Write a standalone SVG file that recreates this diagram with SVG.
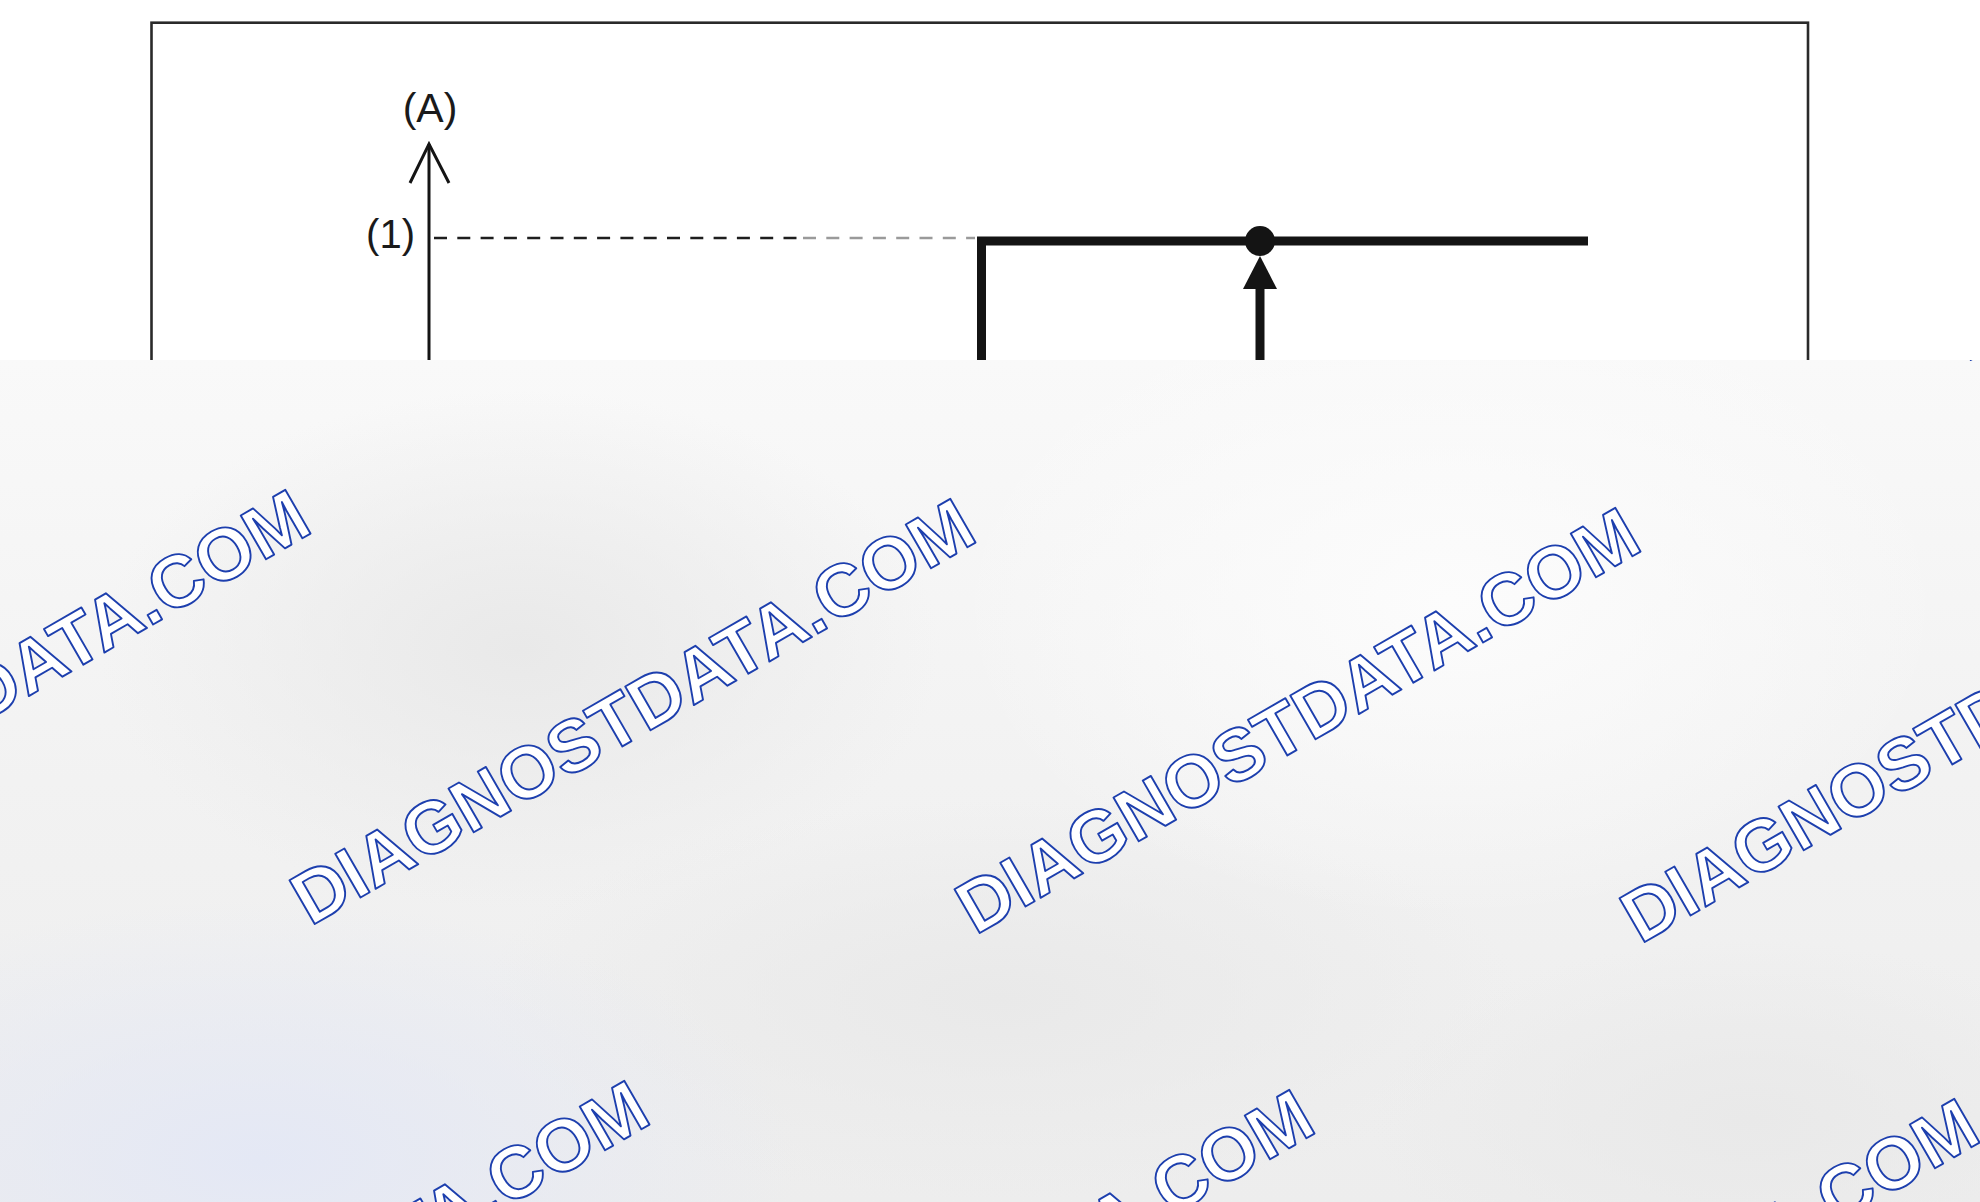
<svg xmlns="http://www.w3.org/2000/svg" width="1980" height="1202" viewBox="0 0 1980 1202">
  <style>
    .lbl { font-family: "Liberation Sans", Arial, sans-serif; fill: #1a1a1a; }
    .ink { stroke: #141414; fill: none; }
    .wm { font-family: "Liberation Sans", Arial, sans-serif; font-weight: bold; font-size: 73.5px; fill: #ffffff; stroke: #1d3fae; stroke-width: 1.9; stroke-linejoin: round; }
  </style>
  <defs>
    <clipPath id="wmclip">
      <rect x="0" y="360" width="1980" height="842"/>
    </clipPath>
    <linearGradient id="bgv" x1="0" y1="0" x2="0" y2="1">
      <stop offset="0" stop-color="#f9f9f9"/>
      <stop offset="0.5" stop-color="#f2f2f2"/>
      <stop offset="1" stop-color="#ededed"/>
    </linearGradient>
    <radialGradient id="blue" cx="0.5" cy="0.5" r="0.5">
      <stop offset="0" stop-color="#e4e8f5" stop-opacity="1"/>
      <stop offset="1" stop-color="#e4e8f5" stop-opacity="0"/>
    </radialGradient>
    <radialGradient id="grey" cx="0.5" cy="0.5" r="0.5">
      <stop offset="0" stop-color="#e9e9e9" stop-opacity="1"/>
      <stop offset="1" stop-color="#e9e9e9" stop-opacity="0"/>
    </radialGradient>
    <radialGradient id="bright" cx="0.5" cy="0.5" r="0.5">
      <stop offset="0" stop-color="#fcfcfc" stop-opacity="1"/>
      <stop offset="1" stop-color="#fcfcfc" stop-opacity="0"/>
    </radialGradient>
  </defs>

  <rect x="0" y="0" width="1980" height="1202" fill="#ffffff"/>

  <g id="frame">
    <rect x="151.5" y="22.7" width="1656.5" height="1160" fill="none" stroke="#2a2a2a" stroke-width="2.6"/>
  </g>

  <g id="axis">
    <line class="ink" x1="429" y1="144" x2="429" y2="420" stroke-width="3"/>
    <polyline class="ink" points="410,183 429,144 449,183" stroke-width="3" stroke-linejoin="miter"/>
  </g>

  <g id="label-A">
    <text class="lbl" x="430" y="122" font-size="41" text-anchor="middle">(A)</text>
  </g>

  <g id="label-1">
    <text class="lbl" x="415" y="248" font-size="40" text-anchor="end">(1)</text>
  </g>

  <g id="connectors">
    <line x1="432" y1="238" x2="800" y2="238" stroke="#1e1e1e" stroke-width="2.6" stroke-dasharray="13 10.3" stroke-dashoffset="-2"/>
    <line x1="800" y1="238" x2="975" y2="238" stroke="#9a9a9a" stroke-width="2.6" stroke-dasharray="13 10.3" stroke-dashoffset="-3"/>
    <path class="ink" d="M981.5,420 V241 H1588" stroke-width="9" stroke-linejoin="miter" stroke-linecap="butt"/>
    <line class="ink" x1="1260" y1="286" x2="1260" y2="420" stroke-width="9"/>
  </g>

  <g id="marker-point">
    <circle cx="1260" cy="241" r="15" fill="#141414"/>
    <polygon points="1260,256 1243,289 1277,289" fill="#141414"/>
  </g>

  <g id="watermark">
    <rect x="0" y="360" width="1980" height="842" fill="url(#bgv)"/>
    <g clip-path="url(#wmclip)">
      <ellipse cx="520" cy="650" rx="420" ry="260" fill="url(#grey)"/>
      <ellipse cx="1000" cy="1000" rx="520" ry="200" fill="url(#grey)"/>
      <ellipse cx="1450" cy="600" rx="500" ry="320" fill="url(#bright)"/>
      <ellipse cx="260" cy="1160" rx="540" ry="260" fill="url(#blue)"/>
      <ellipse cx="1750" cy="1120" rx="380" ry="180" fill="url(#grey)"/>
      <text class="wm" transform="translate(-354.6,917.6) rotate(-30)">DIAGNOSTDATA.COM</text>
      <text class="wm" transform="translate(310.4,926.6) rotate(-30)">DIAGNOSTDATA.COM</text>
      <text class="wm" transform="translate(975.4,935.6) rotate(-30)">DIAGNOSTDATA.COM</text>
      <text class="wm" transform="translate(1640.4,944.6) rotate(-30)">DIAGNOSTDATA.COM</text>
      <text class="wm" transform="translate(1966.4,362.6) rotate(-30)">DIAGNOSTDATA.COM</text>
      <text class="wm" transform="translate(-15.6,1508.6) rotate(-30)">DIAGNOSTDATA.COM</text>
      <text class="wm" transform="translate(649.4,1517.6) rotate(-30)">DIAGNOSTDATA.COM</text>
      <text class="wm" transform="translate(1314.4,1526.6) rotate(-30)">DIAGNOSTDATA.COM</text>
    </g>
  </g>
</svg>
